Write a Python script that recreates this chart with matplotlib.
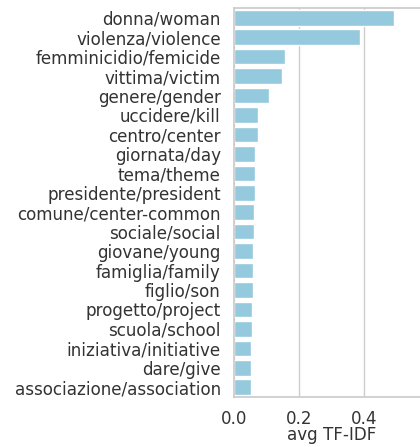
import matplotlib
matplotlib.use("Agg")
import matplotlib.pyplot as plt
import seaborn as sns
import pandas as pd

terms = ["donna/woman", "violenza/violence", "femminicidio/femicide", "vittima/victim",
         "genere/gender", "uccidere/kill", "centro/center", "giornata/day", "tema/theme",
         "presidente/president", "comune/center-common", "sociale/social", "giovane/young",
         "famiglia/family", "figlio/son", "progetto/project", "scuola/school",
         "iniziativa/initiative", "dare/give", "associazione/association"]
scores = [0.493, 0.387, 0.156, 0.149, 0.109, 0.075, 0.073, 0.066, 0.066, 0.064,
          0.062, 0.062, 0.0575, 0.057, 0.057, 0.054, 0.054, 0.052, 0.052, 0.052]

sns.set_theme(style="whitegrid")
plt.rcParams['font.family'] = ['DejaVu Sans']

df = pd.DataFrame({"term": terms, "avg TF-IDF": scores})

fig = plt.figure(figsize=(4.2, 4.47), dpi=100)
ax = fig.add_axes([234/420, 50/447, 195/420, 389/447])
sns.barplot(data=df, y="term", x="avg TF-IDF", color="skyblue", ax=ax, orient="h")
ax.set_xlim(0, 0.6)
ax.set_xticks([0.0, 0.2, 0.4])
ax.set_ylabel("")
ax.set_xlabel("avg TF-IDF", fontsize=12.1, labelpad=-1, color="#333333")
ax.tick_params(axis="both", labelsize=12.1, labelcolor="#333333")
ax.tick_params(axis="x", pad=3)
fig.savefig("out.png", dpi=100)
